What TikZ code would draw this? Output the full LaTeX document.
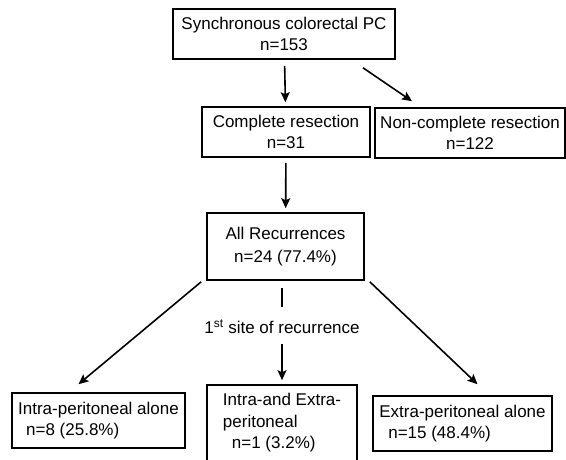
\documentclass[tikz,border=0pt]{standalone}
\usepackage{fontspec}
\setmainfont{Liberation Sans}
\usetikzlibrary{arrows.meta, positioning}

\tikzset{
  box/.style={draw, line width=1.6pt, inner sep=0pt, align=center, font=\fontsize{17}{21.5}\selectfont},
  arr/.style={-{Stealth[length=10pt, width=9pt, inset=2pt]}, line width=1.6pt},
  link/.style={line width=1.6pt},
}

\begin{document}
\begin{tikzpicture}[x=1pt, y=-1pt]
      \useasboundingbox (0,0) rectangle (566,459);

      \node[box, minimum width=222, minimum height=50] (pc) at (284,34) {Synchronous colorectal PC\\n=153};
      \node[box, minimum width=168, minimum height=50] (complete) at (286,132) {Complete resection\\n=31};
      \node[box, minimum width=190, minimum height=50] (noncomplete) at (470,133) {Non-complete resection\\n=122};
      \node[box, minimum width=157, minimum height=67] (allrec) at (285.5,246.5) {All Recurrences\\[2pt]n=24 (77.4\%)};
      \node[inner sep=0pt, font=\fontsize{17}{21}\selectfont] (site) at (282,327) {1\textsuperscript{st} site of recurrence};
      \node[box, align=left, minimum width=173, minimum height=55] (intra) at (98.5,420.5) {Intra-peritoneal alone\\\hspace*{8pt}n=8 (25.8\%)};
      \node[box, align=left, minimum width=150, minimum height=76] (both) at (282,423) {Intra-and Extra-\\peritoneal\\\hspace*{9pt}n=1 (3.2\%)};
      \node[box, align=left, minimum width=179, minimum height=55] (extra) at (462.5,423.5) {Extra-peritoneal alone\\\hspace*{9pt}n=15 (48.4\%)};

      \draw[arr, shorten <=6pt, shorten >=4pt] (pc) -- (complete);
      \draw[arr] ([shift={(79,8)}]pc.south) -- ([shift={(-58,-6)}]noncomplete.north);
      \draw[arr, shorten <=5pt, shorten >=4pt] (complete) -- (allrec);
      \draw[link, shorten <=7pt, shorten >=13pt] (allrec.south -| site.north) -- (site.north);
      \draw[arr, shorten <=10pt, shorten >=4pt] (site.south) -- (both.north -| site.south);
      \draw[arr] ([shift={(-5,1)}]allrec.south west) -- ([shift={(-20,-8)}]intra.north);
      \draw[arr] ([shift={(5,1)}]allrec.south east) -- ([shift={(15,-11)}]extra.north);
    \end{tikzpicture}
\end{document}
